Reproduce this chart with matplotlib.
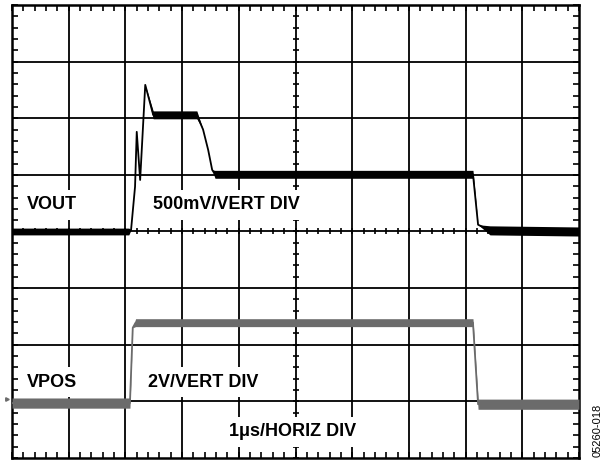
import numpy as np
import matplotlib.pyplot as plt

# scope capture, units are divisions (10 horiz x 8 vert)
vout_t = [0.0, 2.06, 2.10, 2.17, 2.20, 2.26, 2.35, 2.49, 3.26, 3.37, 3.46, 3.53, 3.58, 8.13, 8.22, 8.43, 10.0]
vout_v = [4.00, 4.00, 4.03, 4.79, 5.76, 4.91, 6.59, 6.06, 6.06, 5.80, 5.44, 5.09, 5.01, 5.01, 4.12, 4.02, 4.00]
vout_w = [0.06, 0.06, 0.0, 0.0, 0.0, 0.0, 0.0, 0.07, 0.07, 0.0, 0.0, 0.0, 0.07, 0.07, 0.0, 0.08, 0.08]

vpos_t = [0.0, 2.08, 2.13, 2.18, 8.13, 8.22, 10.0]
vpos_v = [0.97, 0.97, 2.30, 2.39, 2.39, 0.95, 0.95]
vpos_w = [0.09, 0.09, 0.0, 0.07, 0.07, 0.09, 0.09]

plt.rcParams['font.family'] = ['Liberation Sans', 'DejaVu Sans']

fig = plt.figure(figsize=(6.08, 4.61), dpi=100)
ax = fig.add_axes([12/608, 3/461, 567/608, 453/461])
ax.set_xlim(0, 10)
ax.set_ylim(0, 8)

# graticule
for x in range(1, 10):
    ax.axvline(x, color='black', lw=1.3, zorder=1)
for y in range(1, 8):
    ax.axhline(y, color='black', lw=1.3, zorder=1)
for s in ax.spines.values():
    s.set_linewidth(1.8)

ax.set_xticks([])
ax.set_yticks([])
ax.set_xticks(np.arange(0, 10.01, 0.2), minor=True)
ax.set_yticks(np.arange(0, 8.01, 0.2), minor=True)
ax.tick_params(which='minor', direction='in', length=4, width=1.2,
               top=True, right=True, labelbottom=False, labelleft=False)

# ticks on the centre axes
mx = np.arange(0, 10.01, 0.2)
my = np.arange(0, 8.01, 0.2)
ax.plot(mx, np.full_like(mx, 4.0), ls='none', marker='|', ms=5, mew=1.2, color='black', zorder=1)
ax.plot(np.full_like(my, 5.0), my, ls='none', marker='_', ms=5, mew=1.2, color='black', zorder=1)

# traces
t = np.array(vout_t); v = np.array(vout_v); w = np.array(vout_w)
ax.fill_between(t, v - w, v + w, color='black', lw=0, zorder=4)
ax.plot(t, v, color='black', lw=1.3, zorder=4)

gray = '#6b6b6b'
t = np.array(vpos_t); v = np.array(vpos_v); w = np.array(vpos_w)
ax.fill_between(t, v - w, v + w, color=gray, lw=0, zorder=4)
ax.plot(t, v, color=gray, lw=1.3, zorder=4)

# ground marker
ax.plot([-0.09], [1.05], marker='>', ms=2.5, color=gray, clip_on=False)

box = dict(boxstyle='square,pad=0.35', fc='white', ec='none')
kw = dict(fontsize=13, fontweight='bold', va='center', ha='left', bbox=box, zorder=3)
ax.text(0.26, 4.47, 'VOUT', **kw)
ax.text(2.49, 4.47, '500mV/VERT DIV', **kw)
ax.text(0.26, 1.34, 'VPOS', **kw)
ax.text(2.40, 1.34, '2V/VERT DIV', **kw)
ax.text(3.83, 0.46, '1\u03bcs/HORIZ DIV', **kw)

fig.text(598/608, 1 - 430/461, '05260-018', rotation=90, fontsize=8,
         ha='center', va='center')

fig.savefig('out.png', dpi=100)
